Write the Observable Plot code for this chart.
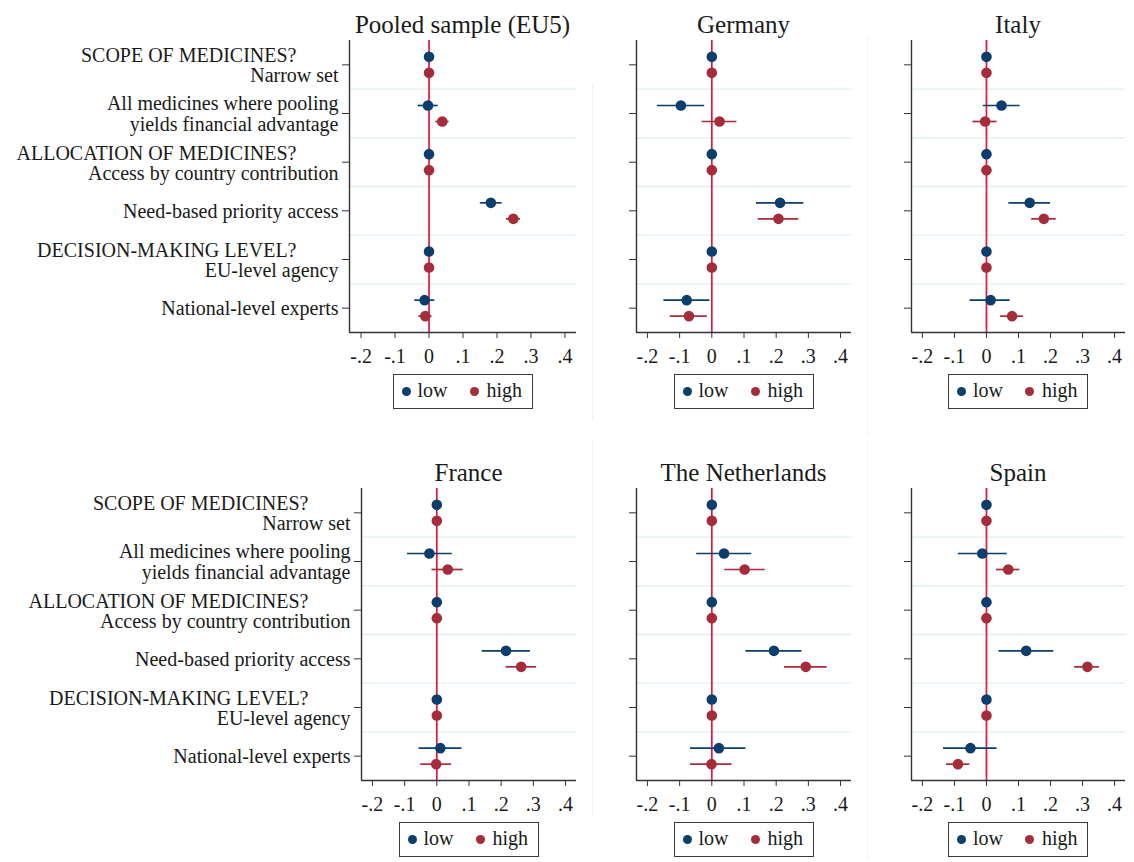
<!DOCTYPE html>
<html><head><meta charset="utf-8">
<script src="https://cdn.jsdelivr.net/npm/d3@7"></script>
<script src="https://cdn.jsdelivr.net/npm/@observablehq/plot@0.6"></script>
<style>
body{margin:0;background:#fff;}
#root{position:relative;width:1134px;height:862px;overflow:hidden;font-family:"Liberation Serif","Times New Roman",serif;color:#1a1a1a;background:#fff;}
.title{position:absolute;font-size:25px;text-align:center;white-space:nowrap;line-height:1;}
.legend{position:absolute;border:1.5px solid #3a3a3a;box-sizing:border-box;font-size:20px;}
.legend .sw{position:absolute;width:9px;height:9px;border-radius:50%;top:12px;}
.legend .lb{position:absolute;top:5px;line-height:1;}
.sep{position:absolute;width:1px;background:#f1f3f4;}
svg{overflow:visible;}
</style></head><body><div id="root"></div>
<script>
// ---- data ----
const categories = [
  "Narrow set",
  "All medicines where pooling\nyields financial advantage",
  "Access by country contribution",
  "Need-based priority access",
  "EU-level agency",
  "National-level experts"
];
const headers = ["SCOPE OF MEDICINES?", null, "ALLOCATION OF MEDICINES?", null, "DECISION-MAKING LEVEL?", null];
const panelNames = ["Pooled sample (EU5)", "Germany", "Italy", "France", "The Netherlands", "Spain"];
const groups = ["low", "high"];
const groupColors = ["#0c3e6c", "#a52d3b"];
const xTicks = [-0.2, -0.1, 0, 0.1, 0.2, 0.3, 0.4];
const xTickLabels = ["-.2", "-.1", "0", ".1", ".2", ".3", ".4"];

// rows: panels (EU5, DE, IT, FR, NL, ES); columns: categories
const lowEst = [
  [0, -0.003, 0, 0.182, 0, -0.013],
  [0, -0.096, 0, 0.212, 0, -0.078],
  [0, 0.047, 0, 0.135, 0, 0.013],
  [0, -0.023, 0, 0.215, 0, 0.011],
  [0, 0.038, 0, 0.193, 0, 0.022],
  [0, -0.013, 0, 0.124, 0, -0.050]
];
const lowLo = [
  [null, -0.032, null, 0.151, null, -0.042],
  [null, -0.169, null, 0.139, null, -0.149],
  [null, -0.010, null, 0.070, null, -0.051],
  [null, -0.091, null, 0.141, null, -0.055],
  [null, -0.047, null, 0.106, null, -0.066],
  [null, -0.088, null, 0.039, null, -0.134]
];
const lowHi = [
  [null, 0.027, null, 0.215, null, 0.017],
  [null, -0.022, null, 0.286, null, -0.006],
  [null, 0.105, null, 0.200, null, 0.074],
  [null, 0.048, null, 0.291, null, 0.078],
  [null, 0.124, null, 0.280, null, 0.106],
  [null, 0.065, null, 0.210, null, 0.033]
];
const highEst = [
  [0, 0.039, 0, 0.248, 0, -0.011],
  [0, 0.024, 0, 0.207, 0, -0.071],
  [0, -0.004, 0, 0.179, 0, 0.080],
  [0, 0.034, 0, 0.262, 0, -0.002],
  [0, 0.102, 0, 0.292, 0, -0.001],
  [0, 0.068, 0, 0.315, 0, -0.089]
];
const highLo = [
  [null, 0.020, null, 0.228, null, -0.030],
  [null, -0.030, null, 0.144, null, -0.129],
  [null, -0.042, null, 0.141, null, 0.044],
  [null, -0.015, null, 0.215, null, -0.050],
  [null, 0.040, null, 0.226, null, -0.066],
  [null, 0.031, null, 0.275, null, -0.125]
];
const highHi = [
  [null, 0.059, null, 0.269, null, 0.009],
  [null, 0.078, null, 0.270, null, -0.014],
  [null, 0.033, null, 0.218, null, 0.116],
  [null, 0.082, null, 0.310, null, 0.046],
  [null, 0.166, null, 0.358, null, 0.063],
  [null, 0.104, null, 0.353, null, -0.052]
];

// ---- layout ----
const xDomain = [-0.234, 0.434];
const layout = [
  {axisX: 349, right: 576, top: 40, labels: true},
  {axisX: 636, right: 851, top: 40, labels: false},
  {axisX: 911, right: 1125, top: 40, labels: false},
  {axisX: 361, right: 576, top: 488, labels: true},
  {axisX: 636, right: 851, top: 488, labels: false},
  {axisX: 911, right: 1125, top: 488, labels: false}
];
const plotH = 292;
const font = '"Liberation Serif","Times New Roman",serif';
const root = document.getElementById("root");

// faint panel separators
[[592, 83, 420], [867, 37, 435], [592, 440, 817], [867, 440, 860]].forEach(([x, y0, y1]) => {
  const s = document.createElement("div");
  s.className = "sep";
  s.style.left = x + "px"; s.style.top = y0 + "px"; s.style.height = (y1 - y0) + "px";
  root.appendChild(s);
});

layout.forEach((L, p) => {
  const n = categories.length;
  const low = categories.map((c, i) => ({i, est: lowEst[p][i], lo: lowLo[p][i], hi: lowHi[p][i]}));
  const high = categories.map((c, i) => ({i, est: highEst[p][i], lo: highLo[p][i], hi: highHi[p][i]}));
  const labelRows = categories.map((c, i) => ({i, label: c, header: headers[i]}));
  const mL = L.labels ? L.axisX : 20, mT = 2, mB = 46, mR = 6;
  const w = L.right - L.axisX;
  const marks = [
    Plot.ruleY(d3.range(n - 1).map(i => i + 0.5), {stroke: "#e1ecf1", strokeWidth: 1.4}),
    Plot.ruleX([0], {stroke: "#e3173e", strokeWidth: 1.7}),
    Plot.ruleX([xDomain[0]], {stroke: "#333", strokeWidth: 1.4}),
    Plot.ruleY([n - 0.5], {stroke: "#333", strokeWidth: 1.4}),
    Plot.axisX({ticks: xTicks, tickFormat: d => xTickLabels[xTicks.indexOf(d)], tickSize: 6, tickPadding: 10, fontSize: 20, stroke: "#333", fill: "#1a1a1a", label: null}),
    Plot.axisY({ticks: d3.range(n), tickFormat: () => "", tickSize: 7, stroke: "#333", label: null}),
    Plot.ruleY(low.filter(d => d.lo != null), {y: "i", x1: "lo", x2: "hi", dy: -8, stroke: groupColors[0], strokeWidth: 1.7}),
    Plot.ruleY(high.filter(d => d.lo != null), {y: "i", x1: "lo", x2: "hi", dy: 8, stroke: groupColors[1], strokeWidth: 1.7}),
    Plot.dot(low, {x: "est", y: "i", dy: -8, r: 5.3, fill: groupColors[0]}),
    Plot.dot(high, {x: "est", y: "i", dy: 8, r: 5.3, fill: groupColors[1]})
  ];
  if (L.labels) {
    marks.push(
      Plot.text(labelRows.filter(d => d.header), {y: "i", text: "header", frameAnchor: "left", textAnchor: "end", dx: -53, dy: -9, fontSize: 20, fill: "#1a1a1a"}),
      Plot.text(labelRows.filter(d => d.header), {y: "i", text: "label", frameAnchor: "left", textAnchor: "end", dx: -11, dy: 11, fontSize: 20, fill: "#1a1a1a"}),
      Plot.text(labelRows.filter(d => !d.header), {y: "i", text: "label", frameAnchor: "left", textAnchor: "end", dx: -11, fontSize: 20, lineHeight: 1.08, fill: "#1a1a1a"})
    );
  }
  const chart = Plot.plot({
    width: mL + w + mR,
    height: mT + plotH + mB,
    marginLeft: mL, marginRight: mR, marginTop: mT, marginBottom: mB,
    style: {fontFamily: font, fontSize: "20px", background: "transparent", color: "#1a1a1a"},
    x: {domain: xDomain, label: null},
    y: {domain: [-0.5, n - 0.5], reverse: true, label: null},
    marks
  });
  chart.style.position = "absolute";
  chart.style.left = (L.axisX - mL) + "px";
  chart.style.top = (L.top - mT) + "px";
  root.appendChild(chart);

  const cx = (L.axisX + L.right) / 2;
  const t = document.createElement("div");
  t.className = "title";
  t.textContent = panelNames[p];
  t.style.left = (cx - 200) + "px"; t.style.width = "400px";
  t.style.top = (L.top - 28) + "px";
  root.appendChild(t);

  const lg = document.createElement("div");
  lg.className = "legend";
  lg.style.left = (cx - 70) + "px"; lg.style.width = "140px";
  lg.style.top = (L.top + 334) + "px"; lg.style.height = "35px";
  const pos = [[8, 24], [76, 93]];
  groups.forEach((g, k) => {
    const sw = document.createElement("span");
    sw.className = "sw"; sw.style.left = pos[k][0] + "px"; sw.style.background = groupColors[k];
    const lb = document.createElement("span");
    lb.className = "lb"; lb.style.left = pos[k][1] + "px"; lb.textContent = g;
    lg.appendChild(sw); lg.appendChild(lb);
  });
  root.appendChild(lg);
});
</script></body></html>
